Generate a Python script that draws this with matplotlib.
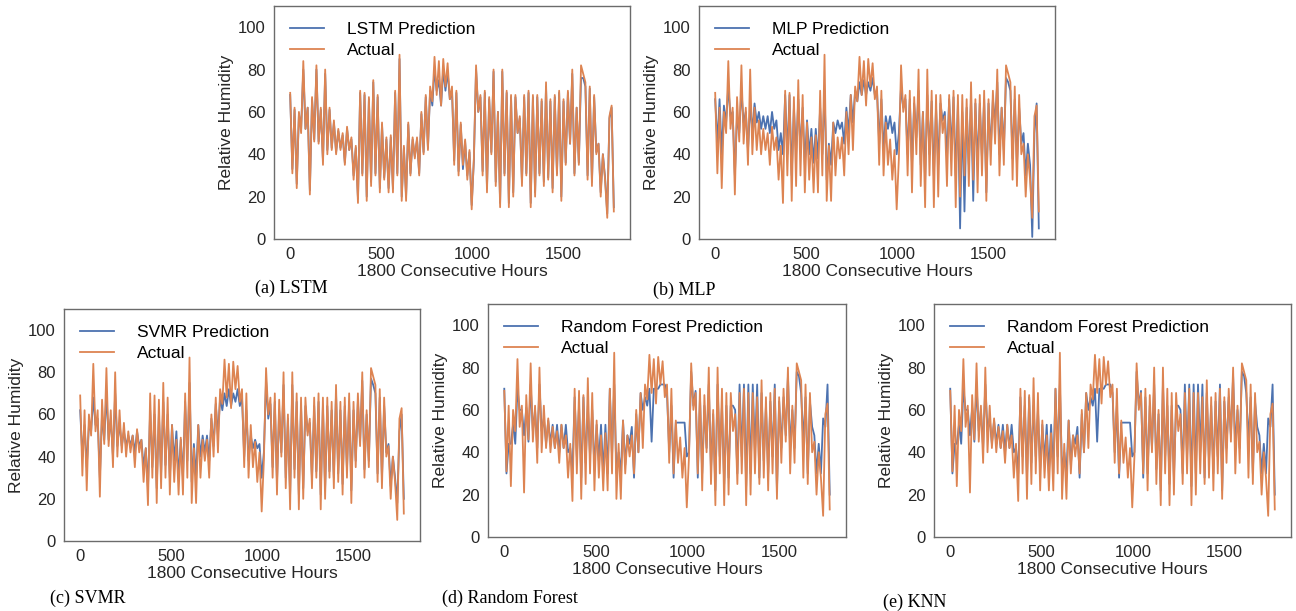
import numpy as np
import matplotlib
matplotlib.use("Agg")
from matplotlib import pyplot as plt

# relative humidity, one reading every 12 hours
step_hours = 12
actual = [69, 31, 62, 24, 60, 50, 84, 52, 62, 21,
          67, 46, 82, 45, 62, 35, 80, 40, 62, 42,
          56, 40, 52, 42, 50, 35, 53, 42, 48, 28,
          44, 17, 70, 30, 69, 18, 67, 25, 75, 30,
          68, 22, 55, 28, 48, 22, 49, 22, 70, 30,
          87, 18, 44, 18, 55, 30, 48, 38, 48, 30,
          60, 40, 68, 42, 72, 65, 86, 68, 84, 63,
          85, 72, 83, 66, 72, 35, 70, 30, 55, 35,
          47, 28, 42, 14, 38, 82, 60, 68, 30, 70,
          22, 67, 40, 80, 25, 60, 15, 80, 30, 70,
          15, 68, 20, 68, 50, 58, 25, 68, 30, 70,
          15, 68, 20, 68, 30, 66, 25, 74, 28, 66,
          22, 68, 30, 70, 18, 66, 35, 70, 45, 80,
          30, 62, 35, 82, 78, 74, 28, 72, 25, 68,
          40, 45, 20, 40, 28, 10, 58, 63, 13]

lstm_pred = [68, 33, 61, 26, 59, 52, 80, 52, 62, 23,
             66, 47, 80, 46, 61, 37, 78, 42, 61, 43,
             55, 41, 51, 43, 49, 36, 52, 42, 47, 30,
             43, 19, 69, 31, 68, 20, 66, 27, 74, 31,
             67, 24, 54, 29, 47, 24, 48, 24, 69, 31,
             85, 20, 43, 20, 54, 31, 47, 39, 47, 31,
             59, 41, 67, 43, 70, 63, 80, 70, 75, 63,
             80, 70, 79, 66, 70, 37, 69, 32, 54, 33,
             46, 30, 41, 16, 37, 80, 60, 67, 32, 69,
             24, 66, 41, 79, 27, 60, 17, 79, 31, 69,
             17, 67, 22, 67, 50, 57, 27, 67, 31, 69,
             17, 67, 22, 67, 31, 65, 27, 72, 29, 65,
             24, 67, 31, 69, 20, 65, 36, 69, 45, 78,
             31, 62, 36, 76, 76, 72, 30, 71, 27, 67,
             41, 45, 22, 40, 29, 12, 57, 62, 15]

mlp_pred = [66, 45, 66, 40, 63, 55, 72, 58, 60, 30,
            58, 50, 70, 55, 60, 42, 62, 52, 64, 55,
            60, 52, 58, 52, 58, 50, 60, 52, 56, 42,
            50, 40, 68, 40, 68, 30, 62, 40, 66, 42,
            62, 35, 56, 40, 52, 36, 52, 38, 62, 40,
            70, 28, 45, 35, 55, 50, 56, 52, 55, 45,
            62, 50, 68, 55, 70, 65, 74, 68, 75, 68,
            74, 70, 76, 68, 70, 45, 66, 42, 58, 52,
            58, 50, 55, 40, 50, 72, 62, 66, 40, 66,
            35, 64, 48, 70, 35, 60, 28, 68, 40, 65,
            30, 62, 35, 64, 56, 60, 38, 66, 42, 67,
            30, 64, 5, 60, 13, 62, 35, 66, 18, 64,
            35, 64, 38, 66, 22, 64, 42, 66, 55, 74,
            40, 62, 42, 76, 74, 70, 38, 66, 35, 62,
            45, 50, 30, 45, 35, 1, 50, 64, 5]

svmr_pred = [62, 40, 55, 35, 55, 52, 68, 55, 58, 30,
             60, 48, 70, 48, 58, 40, 70, 45, 56, 45,
             52, 45, 50, 45, 50, 42, 52, 45, 48, 35,
             44, 25, 62, 35, 60, 25, 60, 32, 66, 36,
             60, 30, 55, 38, 52, 30, 48, 30, 66, 38,
             75, 28, 46, 30, 55, 40, 50, 42, 50, 38,
             58, 45, 65, 50, 68, 62, 70, 64, 72, 64,
             70, 66, 72, 64, 68, 40, 62, 38, 50, 44,
             48, 44, 46, 30, 42, 76, 58, 65, 35, 66,
             28, 62, 42, 74, 30, 58, 22, 74, 34, 66,
             22, 64, 25, 64, 52, 56, 30, 64, 33, 66,
             22, 64, 25, 64, 33, 62, 30, 70, 32, 62,
             27, 64, 34, 66, 24, 62, 38, 66, 47, 76,
             34, 60, 38, 77, 74, 70, 32, 68, 30, 64,
             42, 46, 26, 40, 30, 18, 52, 60, 20]

# the Random Forest and KNN panels show the same prediction curve
rf_pred = [70, 30, 44, 44, 53, 44, 70, 60, 60, 48,
           61, 45, 72, 50, 60, 42, 72, 50, 56, 44,
           55, 44, 53, 42, 53, 40, 53, 42, 53, 40,
           42, 30, 66, 38, 62, 28, 66, 35, 62, 38,
           60, 32, 53, 36, 53, 30, 53, 30, 70, 38,
           72, 30, 40, 30, 55, 34, 48, 44, 52, 28,
           58, 40, 68, 60, 66, 62, 70, 45, 70, 70,
           70, 72, 72, 72, 68, 40, 62, 28, 54, 54,
           54, 54, 54, 38, 40, 78, 62, 69, 28, 66,
           30, 62, 42, 72, 32, 58, 22, 72, 38, 62,
           25, 62, 28, 62, 62, 60, 30, 72, 38, 72,
           24, 72, 30, 72, 40, 72, 28, 68, 36, 62,
           30, 64, 38, 72, 22, 64, 42, 66, 48, 76,
           42, 60, 42, 78, 76, 68, 45, 66, 30, 64,
           52, 48, 30, 44, 30, 56, 52, 72, 20]

panels = [
    ("LSTM Prediction", lstm_pred, "(a) LSTM"),
    ("MLP Prediction", mlp_pred, "(b) MLP"),
    ("SVMR Prediction", svmr_pred, "(c) SVMR"),
    ("Random Forest Prediction", rf_pred, "(d) Random Forest"),
    ("Random Forest Prediction", rf_pred, "(e) KNN"),
]

hours = np.arange(len(actual)) * step_hours

plt.rcParams["font.family"] = ["Liberation Sans", "DejaVu Sans"]

W, H = 1296, 611
fig = plt.figure(figsize=(W / 100, H / 100), dpi=100)

# axes boxes in pixels: left, bottom, width, height ; caption position
boxes = [(274, 239, 356, 233), (699, 239, 356, 233), (64, 541, 356, 232),
         (488, 537, 358, 233), (934, 537, 357, 233)]
captions = [(255, 288), (653, 290), (50, 598), (442, 598), (883, 602)]

blue = "#4c72b0"
orange = "#dd8452"

for (label, pred, cap), (l, b, w, h), (cx, cy) in zip(panels, boxes, captions):
    ax = fig.add_axes([l / W, 1 - b / H, w / W, h / H])
    ax.plot(hours, pred, color=blue, lw=1.3, label=label)
    ax.plot(hours, actual, color=orange, lw=1.3, label="Actual")
    ax.set_ylim(0, 110)
    ax.set_xticks([0, 500, 1000, 1500])
    ax.set_yticks([0, 20, 40, 60, 80, 100])
    ax.tick_params(length=0, labelsize=12, labelcolor="#262626", pad=6)
    for s in ax.spines.values():
        s.set_color("#6b6b6b")
        s.set_linewidth(1.0)
    ax.set_xlabel("1800 Consecutive Hours", fontsize=12.5, color="#262626", labelpad=1)
    ax.set_ylabel("Relative Humidity", fontsize=12.5, color="#262626", labelpad=3)
    ax.legend(loc="upper left", frameon=False, fontsize=12.5,
              handlelength=2.0, borderaxespad=0.5, labelspacing=0.35,
              handletextpad=1.3)
    fig.text(cx / W, 1 - cy / H, cap, fontsize=13, va="center", ha="left",
             family=["Liberation Serif", "DejaVu Serif"])

fig.savefig("out.png", dpi=100)
